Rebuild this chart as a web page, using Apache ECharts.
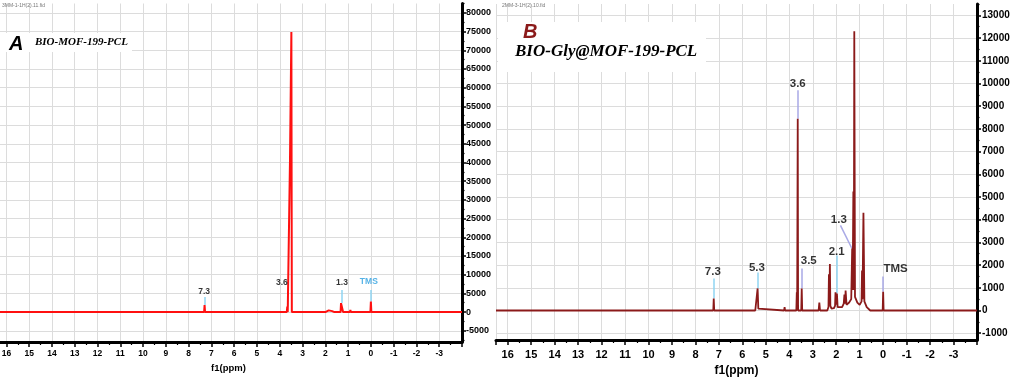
<!DOCTYPE html>
<html>
<head>
<meta charset="utf-8">
<script src="https://cdn.jsdelivr.net/npm/echarts@6/dist/echarts.min.js"></script>
<style>html,body{margin:0;padding:0;background:#fff;}#c{width:1021px;height:378px;}</style>
</head>
<body>
<div id="c"></div>
<script>
// ---------- DATA ----------
// Panel A spectrum: [ppm, intensity]
const spectrumA = [
  [16.5, 0], [7.32, 0], [7.30, 1900], [7.28, 0],
  [3.69, 0], [3.67, 1500], [3.65, 0],
  [3.57, 0], [3.55, 40900], [3.52, 40900], [3.49, 74900], [3.47, 0],
  [3.36, 0], [3.34, 400], [3.32, 0],
  [2.0, 0], [1.92, 350], [1.85, 450], [1.78, 300], [1.7, 250], [1.6, 0],
  [1.33, 0], [1.31, 2400], [1.24, 2500], [1.22, 0],
  [0.92, 0], [0.90, 600], [0.88, 0],
  [0.02, 0], [0.0, 2800], [-0.02, 0], [-4, 0]
];
// Panel B spectrum: [ppm, intensity]
const spectrumB = [
  [16.5, 0], [7.24, 0], [7.22, 530], [7.20, 0],
  [5.45, 0], [5.38, 80], [5.35, 970], [5.32, 80], [5.26, 0],
  [4.22, 0], [4.20, 150], [4.18, 0],
  [3.70, 0], [3.68, 800], [3.665, 0], [3.655, 0], [3.64, 8450], [3.625, 0],
  [3.49, 0], [3.47, 970], [3.45, 0],
  [2.75, 0], [2.72, 350], [2.69, 0],
  [2.38, 0], [2.33, 150], [2.31, 1600], [2.29, 300], [2.27, 2050], [2.25, 200], [2.2, 80],
  [2.1, 100], [2.05, 200], [2.03, 800], [2.0, 250], [1.97, 750], [1.94, 150],
  [1.75, 150], [1.68, 300], [1.65, 700], [1.62, 300], [1.60, 880], [1.56, 250],
  [1.45, 350], [1.36, 500], [1.32, 2730], [1.30, 900], [1.27, 5240], [1.25, 900], [1.23, 12300],
  [1.2, 600], [1.1, 350], [1.0, 250], [0.92, 400], [0.90, 1760], [0.88, 500], [0.84, 4300],
  [0.80, 400], [0.7, 150], [0.55, 0],
  [0.02, 0], [0.0, 820], [-0.02, 0], [-4, 0]
];
// Peak annotations panel A
const labelTextA = ['7.3', '3.6', '1.3', 'TMS'];
const labelPpmA  = [7.32, 3.91, 1.27, 0.09];
const labelIntA  = [5350, 7750, 7750, 8000];
const leaderPpmA = [7.30, 3.67, 1.28, 0.0];
const leaderTopA = [4000, 5900, 5900, 5900];
const leaderEndA = [1900, 1500, 2450, 2800];
// Peak annotations panel B
const labelTextB = ['7.3', '5.3', '3.6', '3.5', '2.1', '1.3', 'TMS'];
const labelPpmB  = [7.26, 5.38, 3.64, 3.17, 1.98, 1.89, -0.53];
const labelIntB  = [1720, 1900, 10000, 2200, 2600, 4000, 1850];
const leaderPpmB0 = [7.23, 5.35, 3.64, 3.47, 1.98, 1.82, 0.0];
const leaderTopB  = [1410, 1670, 9700, 1850, 2420, 3750, 1500];
const leaderPpmB1 = [7.23, 5.35, 3.64, 3.47, 1.98, 1.33, 0.0];
const leaderEndB  = [530, 970, 8450, 970, 750, 2730, 820];
// Axis tick labels
const xTicks = [16, 15, 14, 13, 12, 11, 10, 9, 8, 7, 6, 5, 4, 3, 2, 1, 0, -1, -2, -3];
const yTicksA = [-5000, 0, 5000, 10000, 15000, 20000, 25000, 30000, 35000, 40000, 45000, 50000, 55000, 60000, 65000, 70000, 75000, 80000];
const yMinorA = [-7500, -2500, 2500, 7500, 12500, 17500, 22500, 27500, 32500, 37500, 42500, 47500, 52500, 57500, 62500, 67500, 72500, 77500, 82500];
const yTicksB = [-1000, 0, 1000, 2000, 3000, 4000, 5000, 6000, 7000, 8000, 9000, 10000, 11000, 12000, 13000];
const yMinorB = [-500, 500, 1500, 2500, 3500, 4500, 5500, 6500, 7500, 8500, 9500, 10500, 11500, 12500, 13500];

// ---------- CHART ----------
const FONT = 'Liberation Sans';
const grid = [
  {left: -5, right: 559, top: 3.5, bottom: 36, outerBoundsMode: 'none', containLabel: false},
  {left: 496, right: 44, top: 4, bottom: 38, outerBoundsMode: 'none', containLabel: false}
];
function xAxis(gi, fs, margin, nameFs, nameGap) {
  return {
    type: 'value', gridIndex: gi, min: -4, max: 16.5, interval: 1, inverse: true,
    axisLine: {onZero: false, lineStyle: {color: '#000', width: 3}},
    axisTick: {length: 5, lineStyle: {color: '#000', width: 1.5}},
    minorTick: {show: true, splitNumber: 2, length: 3, lineStyle: {color: '#000', width: 1.2}},
    splitLine: {show: true, lineStyle: {color: '#dcdcdc', width: 1}},
    axisLabel: {color: '#000', fontFamily: FONT, fontWeight: 'bold', fontSize: fs, margin: margin,
      formatter: v => xTicks.indexOf(v) >= 0 ? String(v) : ''},
    name: 'f1(ppm)', nameLocation: 'middle', nameGap: nameGap,
    nameTextStyle: {color: '#000', fontFamily: FONT, fontWeight: 'bold', fontSize: nameFs}
  };
}
function yAxis(gi, min, max, ticks, fs, margin) {
  return {
    type: 'value', gridIndex: gi, min: min, max: max, position: 'right',
    axisLine: {show: true, onZero: false, lineStyle: {color: '#000', width: 3}},
    axisTick: {show: true, length: 4, customValues: ticks, lineStyle: {color: '#000', width: 1.5}},
    splitLine: {show: true, lineStyle: {color: '#dcdcdc', width: 1}},
    axisLabel: {show: true, customValues: ticks, color: '#000', fontFamily: FONT, fontWeight: 'bold',
      fontSize: fs, margin: margin, formatter: v => String(v)}
  };
}
function yMinor(gi, min, max, ticks) {
  return {
    type: 'value', gridIndex: gi, min: min, max: max, position: 'right',
    axisLine: {show: false, onZero: false},
    axisTick: {show: true, length: 2.5, customValues: ticks, lineStyle: {color: '#000', width: 1.2}},
    splitLine: {show: false}, axisLabel: {show: false}
  };
}
const leaderColorsB = ['#8fd4f2', '#8fd4f2', '#a9a9e6', '#a9a9e6', '#8fd4f2', '#a9a9e6', '#a9a9e6'];

const series = [
  {type: 'line', xAxisIndex: 0, yAxisIndex: 0, data: spectrumA, showSymbol: false, symbol: 'none',
   lineStyle: {color: '#ff1010', width: 2}, z: 3, silent: true},
  {type: 'line', xAxisIndex: 1, yAxisIndex: 2, data: spectrumB, showSymbol: false, symbol: 'none',
   lineStyle: {color: '#8b1a1a', width: 1.8}, z: 3, silent: true},
  {type: 'lines', coordinateSystem: 'cartesian2d', xAxisIndex: 0, yAxisIndex: 0, z: 2, silent: true,
   lineStyle: {color: '#8fd4f2', width: 1.5, opacity: 1},
   data: leaderPpmA.map((p, i) => ({coords: [[p, leaderTopA[i]], [p, leaderEndA[i]]]}))},
  {type: 'lines', coordinateSystem: 'cartesian2d', xAxisIndex: 1, yAxisIndex: 2, z: 2, silent: true,
   lineStyle: {width: 1.5, opacity: 1},
   data: leaderPpmB0.map((p, i) => ({coords: [[p, leaderTopB[i]], [leaderPpmB1[i], leaderEndB[i]]],
     lineStyle: {color: leaderColorsB[i]}}))},
  {type: 'scatter', xAxisIndex: 0, yAxisIndex: 0, symbolSize: 1, z: 5, silent: true,
   itemStyle: {color: 'transparent'},
   data: labelTextA.map((t, i) => ({value: [labelPpmA[i], labelIntA[i]], name: t,
     label: {color: t === 'TMS' ? '#2a9fe0' : '#000'}})),
   label: {show: true, position: 'inside', formatter: p => p.name, fontFamily: FONT,
     fontWeight: 'bold', fontSize: 8.5}},
  {type: 'scatter', xAxisIndex: 1, yAxisIndex: 2, symbolSize: 1, z: 5, silent: true,
   itemStyle: {color: 'transparent'},
   data: labelTextB.map((t, i) => ({value: [labelPpmB[i], labelIntB[i]], name: t})),
   label: {show: true, position: 'inside', formatter: p => p.name, color: '#000', fontFamily: FONT,
     fontWeight: 'bold', fontSize: 11.5}}
];

const graphic = [
  {type: 'text', x: 2, y: 3, z: 20, style: {text: '3MM-1-1H(2).11.fid', font: '5px ' + FONT, fill: '#777'}},
  {type: 'rect', z: 10, shape: {x: 0, y: 33, width: 132, height: 19}, style: {fill: '#fff'}},
  {type: 'text', x: 9, y: 34, z: 20, style: {text: 'A', font: 'italic bold 20px ' + FONT, fill: '#000'}},
  {type: 'text', x: 35, y: 37, z: 20, style: {text: 'BIO-MOF-199-PCL', font: 'italic bold 11px "Liberation Serif"', fill: '#000'}},
  {type: 'text', x: 502, y: 3, z: 20, style: {text: '2MM-3-1H(2).10.fid', font: '5px ' + FONT, fill: '#777'}},
  {type: 'rect', z: 10, shape: {x: 498, y: 22, width: 208, height: 50}, style: {fill: '#fff'}},
  {type: 'text', x: 523, y: 22, z: 20, style: {text: 'B', font: 'italic bold 20px ' + FONT, fill: '#8b1a1a'}},
  {type: 'text', x: 515, y: 43, z: 20, style: {text: 'BIO-Gly@MOF-199-PCL', font: 'italic bold 17px "Liberation Serif"', fill: '#000'}}
];

const chart = echarts.init(document.getElementById('c'), null, {renderer: 'canvas'});
chart.setOption({
  animation: false,
  backgroundColor: '#fff',
  grid: grid,
  xAxis: [xAxis(0, 8.5, 7, 9.5, 19), xAxis(1, 11, 9, 12, 21)],
  yAxis: [yAxis(0, -8000, 82500, yTicksA, 9, 4), yMinor(0, -8000, 82500, yMinorA),
          yAxis(1, -1300, 13500, yTicksB, 10, 5), yMinor(1, -1300, 13500, yMinorB)],
  series: series,
  graphic: graphic
});
</script>
</body>
</html>
